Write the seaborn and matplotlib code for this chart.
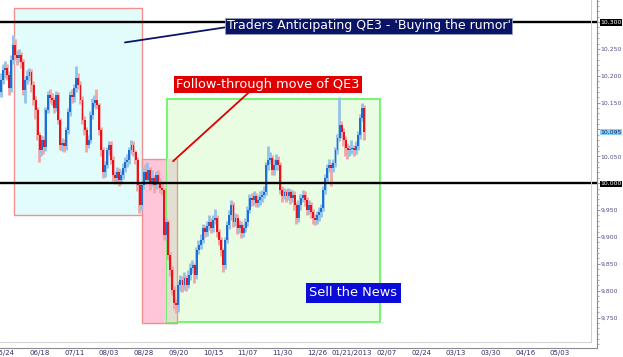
import matplotlib
matplotlib.use("Agg")
import matplotlib.pyplot as plt
import seaborn as sns
import numpy as np
import pandas as pd
from matplotlib.patches import Rectangle
from matplotlib.lines import Line2D
from matplotlib.ticker import FixedLocator, FuncFormatter

# ---------------- data (daily OHLC) ----------------
opens = [10170,10192,10210,10214,10201,10177,10229,10257,10238,10233,
 10238,10225,10173,10192,10199,10207,10182,10155,10136,10089,
 10061,10080,10067,10136,10164,10158,10155,10140,10164,10117,
 10071,10074,10069,10099,10132,10164,10160,10177,10196,10182,
 10155,10117,10099,10071,10080,10127,10149,10155,10145,10099,
 10061,10020,10034,10061,10071,10043,10015,10009,10020,10006,
 10015,10028,10039,10043,10061,10071,10058,10043,9996,9959,
 9996,10020,10006,10024,10000,10009,9996,10015,10000,9991,
 9987,9903,9927,9866,9838,9801,9777,9773,9810,9819,
 9810,9823,9810,9829,9842,9847,9829,9875,9885,9894,
 9916,9909,9920,9927,9916,9931,9935,9909,9894,9875,
 9847,9894,9922,9940,9959,9927,9935,9916,9922,9907,
 9916,9927,9950,9972,9968,9976,9963,9968,9974,9978,
 9983,10034,10043,10047,10024,10034,10043,10034,9987,9976,
 9983,9976,9983,9972,9978,9959,9935,9959,9972,9978,
 9968,9950,9959,9946,9935,9931,9940,9946,9953,9987,
 10009,10028,10034,10028,10037,10061,10084,10108,10095,10080,
 10065,10061,10063,10065,10061,10069,10089,10121,10140]

closes = [10192,10210,10214,10201,10177,10229,10257,10238,10233,10238,
 10225,10173,10192,10199,10207,10182,10155,10136,10089,10061,
 10080,10067,10136,10164,10158,10155,10140,10164,10117,10071,
 10074,10069,10099,10132,10164,10160,10177,10196,10182,10155,
 10117,10099,10071,10080,10127,10149,10155,10145,10099,10061,
 10020,10034,10061,10071,10043,10015,10009,10020,10006,10015,
 10028,10039,10043,10061,10071,10058,10043,9996,9959,9996,
 10020,10006,10024,10000,10009,9996,10015,10000,9991,9987,
 9903,9927,9866,9838,9801,9777,9773,9810,9819,9810,
 9823,9810,9829,9842,9847,9829,9875,9885,9894,9916,
 9909,9920,9927,9916,9931,9935,9909,9894,9875,9847,
 9894,9922,9940,9959,9927,9935,9916,9922,9907,9916,
 9927,9950,9972,9968,9976,9963,9968,9974,9978,9983,
 10034,10043,10047,10024,10034,10043,10034,9987,9976,9983,
 9976,9983,9972,9978,9959,9935,9959,9972,9978,9968,
 9950,9959,9946,9935,9931,9940,9946,9953,9987,10009,
 10028,10034,10028,10037,10061,10084,10108,10095,10080,10065,
 10061,10063,10065,10061,10069,10089,10121,10140,10095]

highs = [10205,10222,10228,10222,10208,10238,10275,10268,10248,10250,
 10245,10232,10200,10210,10215,10212,10190,10162,10142,10095,
 10090,10088,10142,10172,10175,10168,10160,10172,10170,10122,
 10085,10082,10105,10140,10172,10175,10185,10218,10205,10190,
 10162,10125,10105,10090,10135,10158,10165,10175,10150,10105,
 10068,10042,10068,10078,10078,10050,10022,10030,10028,10025,
 10038,10048,10055,10068,10080,10078,10062,10048,10000,10002,
 10030,10035,10040,10030,10025,10015,10022,10025,10010,10000,
 9992,9935,9932,9872,9845,9808,9785,9818,9830,9828,
 9835,9830,9838,9852,9858,9852,9882,9895,9905,9925,
 9922,9930,9940,9935,9940,9952,9940,9915,9900,9880,
 9900,9930,9950,9968,9965,9945,9942,9932,9930,9925,
 9935,9958,9980,9982,9985,9982,9978,9985,9988,9995,
 10040,10070,10058,10052,10045,10055,10050,10040,9995,9992,
 9990,9992,9990,9988,9985,9965,9968,9980,9988,9985,
 9975,9968,9965,9952,9942,9948,9955,9962,9995,10018,
 10035,10045,10040,10045,10068,10092,10160,10115,10102,10088,
 10075,10072,10080,10072,10078,10098,10128,10150,10145]

lows = [10160,10185,10195,10192,10165,10170,10222,10230,10220,10225,
 10215,10165,10150,10185,10190,10170,10145,10120,10080,10040,
 10050,10055,10060,10130,10150,10145,10130,10135,10110,10062,
 10060,10058,10062,10092,10125,10150,10152,10170,10175,10148,
 10110,10090,10058,10065,10075,10120,10142,10138,10090,10050,
 10010,10012,10028,10052,10035,10005,9998,10000,9995,9998,
 10008,10020,10030,10035,10055,10050,10035,9985,9945,9950,
 9990,9998,10000,9988,9995,9982,9990,9992,9982,9978,
 9895,9895,9858,9828,9792,9765,9758,9760,9800,9798,
 9802,9800,9805,9820,9832,9815,9822,9868,9878,9888,
 9900,9902,9912,9908,9910,9925,9900,9885,9865,9835,
 9840,9888,9915,9932,9918,9920,9905,9908,9898,9900,
 9910,9920,9945,9958,9960,9955,9955,9960,9965,9972,
 9978,10025,10035,10015,10015,10025,10025,9980,9965,9970,
 9965,9968,9962,9965,9950,9925,9928,9950,9965,9958,
 9940,9942,9935,9925,9922,9925,9930,9938,9948,9980,
 10000,10020,9995,10020,10030,10055,10078,10085,10070,10050,
 10045,10050,10055,10050,10055,10062,10082,10115,10080]

tick_labels = ["05/24", "06/18", "07/11", "08/03", "08/28", "09/20", "10/15",
               "11/07", "11/30", "12/26", "01/21/2013", "02/07", "02/24",
               "03/13", "03/30", "04/16", "05/03"]
resistance_level = 10300
support_level = 10000
last_price = 10095

assert len(opens) == len(closes) == len(highs) == len(lows)

# ---------------- figure ----------------
sns.set_style("white")
plt.rcParams["font.family"] = ["DejaVu Sans"]

W, H = 623, 357
fig = plt.figure(figsize=(W / 100, H / 100), dpi=100)
fig.patch.set_facecolor("white")
ax = fig.add_axes([0, 9 / H, 597 / W, 348 / H])
ax.set_facecolor("white")
ax.set_xlim(-0.45, 292.2)
ax.set_ylim(9693.3, 10341)

df = pd.DataFrame({"bar": np.arange(len(closes)), "open": opens, "high": highs,
                   "low": lows, "close": closes})
df["up"] = df["close"] >= df["open"]

# ---------------- annotation boxes (behind candles) ----------------
ax.add_patch(Rectangle((6.4, 9940.4), 69.2 - 6.4, 10325.7 - 9940.4,
                       facecolor="#e2fcfc", edgecolor="#f29090", lw=1.0, zorder=1))
ax.add_patch(Rectangle((69.4, 9739.4), 86.3 - 69.4, 10044.7 - 9739.4,
                       facecolor="#ffc6da", edgecolor="#f29090", lw=1.0, zorder=1))
ax.add_patch(Rectangle((81.4, 9741.3), 185.8 - 81.4, 10156.3 - 9741.3,
                       facecolor="#e8fde2", edgecolor="#5cf55c", lw=1.2, zorder=1.1))
ax.add_patch(Rectangle((81.4, 9741.3), 86.3 - 81.4, 10044.7 - 9741.3,
                       facecolor="#e2dfd2", edgecolor="none", lw=0, zorder=1.2))
ax.plot([86.3, 86.3], [9739.4, 10044.7], color="#f29090", lw=0.9, zorder=1.3)
ax.plot([81.4, 86.3], [9739.4, 9739.4], color="#f29090", lw=0.9, zorder=1.3)

# ---------------- candles ----------------
wick_col = np.where(df["up"], "#93c3e6", "#f2a5a5")
body_col = np.where(df["up"], "#1f6fd2", "#e8141c")
ax.vlines(df["bar"] - 0.15, df["low"], df["high"], colors=wick_col, lw=2.0, zorder=2)
body_bottom = np.minimum(df["open"], df["close"])
body_h = np.maximum(np.abs(df["close"] - df["open"]), 2.5)
ax.bar(df["bar"], body_h, bottom=body_bottom, width=0.95, color=body_col,
       linewidth=0, zorder=3)

# ---------------- horizontal levels ----------------
ax.axhline(resistance_level, color="black", lw=1.7, zorder=4)
ax.axhline(support_level, color="black", lw=1.7, zorder=4)

# ---------------- callouts ----------------
ax.plot([109.8, 60.8], [10290, 10262], color="#0a1466", lw=1.3, zorder=5)
ax.text(180.2, 10293, "Traders Anticipating QE3 - 'Buying the rumor'",
        ha="center", va="center", color="white", fontsize=9, zorder=6,
        bbox=dict(boxstyle="square,pad=0.12", fc="#0a1466", ec="#9aa0c0", lw=0.6))

ax.plot([122.1, 84.4], [10171, 10041], color="#e00000", lw=1.3, zorder=5)
ax.text(130.9, 10184, "Follow-through move of QE3", ha="center", va="center",
        color="white", fontsize=9.3, zorder=6,
        bbox=dict(boxstyle="square,pad=0.15", fc="#e00000", ec="none"))

ax.text(172.8, 9796, "Sell the News", ha="center", va="center", color="white",
        fontsize=9.3, zorder=6,
        bbox=dict(boxstyle="square,pad=0.25", fc="#0c0cd8", ec="none"))

# ---------------- axes styling ----------------
for s in ["left", "top"]:
    ax.spines[s].set_visible(False)
for s in ["right", "bottom"]:
    ax.spines[s].set_color("#8c8c8c")
    ax.spines[s].set_linewidth(0.8)

ax.yaxis.tick_right()
yt = np.arange(9750, 10301, 50)
ax.set_yticks(yt)
ax.yaxis.set_minor_locator(FixedLocator(np.arange(9700, 10341, 10)))
ax.yaxis.set_major_formatter(FuncFormatter(
    lambda v, p: "" if int(v) == 10100 else f"{int(v):,}"))
ax.tick_params(axis="y", which="major", direction="out", length=2.0, width=0.6,
               colors="#8c8c8c", labelcolor="#50508a", labelsize=4.4, pad=0.5)
ax.tick_params(axis="y", which="minor", direction="out", length=1.2, width=0.5,
               colors="#8c8c8c")

xt = 2 + 17 * np.arange(len(tick_labels))
ax.set_xticks(xt)
ax.set_xticklabels(tick_labels)
ax.xaxis.set_minor_locator(FixedLocator(np.arange(2 - 17, 300, 17 / 6)))
ax.tick_params(axis="x", which="major", direction="in", length=6, width=0.6,
               colors="#8c8c8c", labelcolor="#30306a", labelsize=5, pad=1.5)
ax.tick_params(axis="x", which="minor", direction="in", length=2.5, width=0.5,
               colors="#8c8c8c")

# boxed price labels on the right axis
for lbl in ax.get_yticklabels():
    if lbl.get_text() in (f"{resistance_level:,}", f"{support_level:,}"):
        lbl.set_color("white")
        lbl.set_bbox(dict(boxstyle="square,pad=0.1", fc="black", ec="none"))
ax.text(1.0 + 3.2 / 597, last_price, f"{last_price:,}",
        transform=ax.get_yaxis_transform(), ha="left", va="center",
        fontsize=4.4, color="#20205a", clip_on=False,
        bbox=dict(boxstyle="square,pad=0.1", fc="#7fd3f7", ec="none"))

# inner light-gray frame lines
fig.add_artist(Line2D([591 / W, 591 / W], [(H - 342) / H, 1], color="#d0d0d0", lw=0.7))
fig.add_artist(Line2D([0, 591 / W], [(H - 342) / H, (H - 342) / H], color="#d0d0d0", lw=0.7))

fig.savefig("out.png", dpi=100, facecolor="white")
